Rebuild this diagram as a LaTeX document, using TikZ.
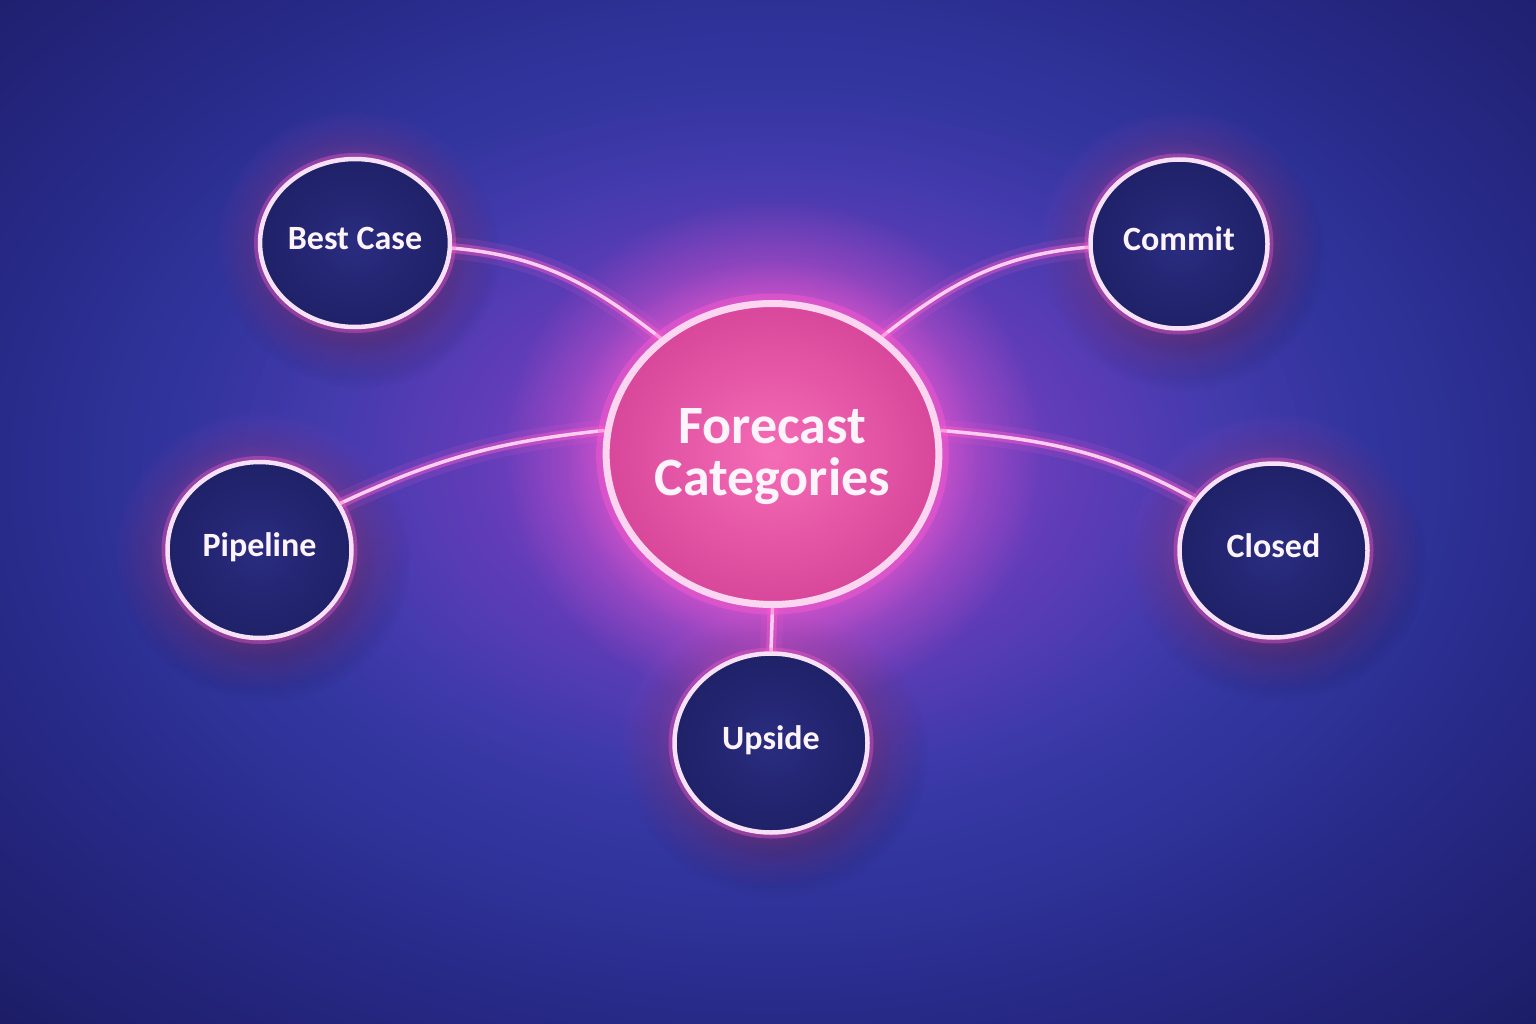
\documentclass[tikz,border=0pt]{standalone}
\usepackage{fontspec}
\setmainfont{Carlito}
\usetikzlibrary{shapes.geometric,fadings}

\definecolor{bgA}{HTML}{8A3FC6}
\definecolor{bgB}{HTML}{7440C0}
\definecolor{bgC}{HTML}{523BB2}
\definecolor{bgD}{HTML}{3B3AAA}
\definecolor{bgE}{HTML}{30339A}
\definecolor{bgF}{HTML}{262884}
\definecolor{bgG}{HTML}{1E1F6C}
\definecolor{bgH}{HTML}{1B1B60}
\definecolor{glowpink}{HTML}{FF5CCF}
\definecolor{purpleglow}{HTML}{9A45D0}
\definecolor{linec}{HTML}{FFCDEF}
\definecolor{ringc}{HTML}{F8E0F6}
\definecolor{ringbig}{HTML}{FCD6F1}
\definecolor{pinkIn}{HTML}{F56CB6}
\definecolor{pinkOut}{HTML}{D8479A}
\definecolor{nodeIn}{HTML}{2A2C80}
\definecolor{nodeOut}{HTML}{1F2168}
\definecolor{txtc}{HTML}{FDF4FB}
\definecolor{g45}{gray}{0.45}

\pgfdeclareradialshading{bgshade}{\pgfpointorigin}{color(0bp)=(bgA); color(3.5bp)=(bgB); color(6.5bp)=(bgC); color(9.5bp)=(bgD); color(13.5bp)=(bgE); color(18bp)=(bgF); color(23bp)=(bgG); color(25bp)=(bgH); color(50bp)=(bgH)}
\pgfdeclareradialshading{glowsh}{\pgfpointorigin}{color(0bp)=(white); color(15bp)=(white); color(19bp)=(g45); color(25bp)=(black); color(50bp)=(black)}
\pgfdeclarefading{ringglow}{\pgfuseshading{glowsh}}
\pgfdeclareradialshading{softsh}{\pgfpointorigin}{color(0bp)=(white); color(25bp)=(black); color(50bp)=(black)}
\pgfdeclarefading{softfade}{\pgfuseshading{softsh}}

\pgfdeclarelayer{bg}
\pgfdeclarelayer{glow}
\pgfdeclarelayer{lines}
\pgfsetlayers{bg,glow,lines,main}

\tikzset{
  conn/.style={draw=linec, line width=3.5pt,
    preaction={draw=glowpink, line width=22pt, opacity=0.12},
    preaction={draw=glowpink, line width=10pt, opacity=0.4}},
  smallnode/.style={ellipse, draw=ringc, line width=4.5pt,
    inner color=nodeIn, outer color=nodeOut, text=txtc,
    font=\bfseries\fontsize{34}{40}\selectfont, inner sep=0pt,
    text height=22pt, text depth=9pt,
    preaction={draw=glowpink, line width=12pt, opacity=0.35}},
  bignode/.style={ellipse, draw=ringbig, line width=7pt,
    inner color=pinkIn, outer color=pinkOut, text=txtc, align=center,
    font=\bfseries\fontsize{54}{52}\selectfont, inner sep=0pt,
    text height=93pt, text depth=11pt,
    minimum width=323pt, minimum height=301pt,
    preaction={draw=glowpink, line width=20pt, opacity=0.4}}
}

\begin{document}
\begin{tikzpicture}[x=1pt,y=1pt]
\useasboundingbox (0,0) rectangle (1536,-1024);

% nodes
\node[bignode] (fc) at (772.5,-454) {Forecast\\Categories};
\node[smallnode, minimum width=175pt, minimum height=168pt] (bc) at (355,-243) {Best Case};
\node[smallnode, minimum width=177pt, minimum height=169pt] (cm) at (1179,-244) {Commit};
\node[smallnode, minimum width=184pt, minimum height=176pt] (pl) at (259.5,-550) {Pipeline};
\node[smallnode, minimum width=188pt, minimum height=174pt] (cl) at (1273.5,-550.5) {Closed};
\node[smallnode, minimum width=193pt, minimum height=179pt] (up) at (771,-743) {Upside};

% background
\begin{pgfonlayer}{bg}
  \fill[bgH] (0,0) rectangle (1536,-1024);
  \begin{scope}
    \clip (0,0) rectangle (1536,-1024);
    \shade[shading=bgshade] (772,-470) ellipse (1150pt and 800pt);
    \fill[purpleglow, opacity=0.4, path fading=softfade] (772,-450) ellipse (600pt and 360pt);
  \end{scope}
\end{pgfonlayer}

% glows and shadows
\begin{pgfonlayer}{glow}
  \foreach \n/\rx/\ry in {bc/140/134, cm/141/135, pl/146/140, cl/148/139, up/152/143} {
    \fill[black, opacity=0.35, path fading=ringglow] ([shift={(6,-12)}]\n.center) ellipse (\rx pt and \ry pt);
    \fill[glowpink, opacity=0.3, path fading=ringglow] (\n.center) ellipse (\rx pt and \ry pt);
  }
  \fill[glowpink, opacity=0.6, path fading=ringglow] (fc.center) ellipse (270pt and 255pt);
\end{pgfonlayer}

% connectors
\begin{pgfonlayer}{lines}
  \draw[conn] (bc.-3) to[out=-5, in=142] (fc.134);
  \draw[conn] (cm.182) to[out=185, in=38] (fc.47);
  \draw[conn] (pl.30) to[out=25, in=186] (fc.172);
  \draw[conn] (cl.147) to[out=151, in=-5] (fc.8);
  \draw[conn] (up.north) -- (fc.south);
\end{pgfonlayer}
\end{tikzpicture}
\end{document}
